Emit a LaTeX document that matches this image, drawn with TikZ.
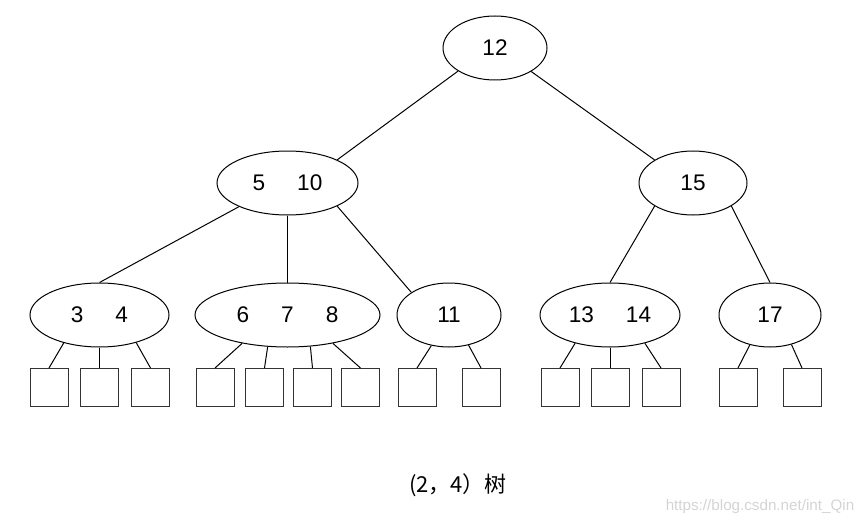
\documentclass[tikz,border=0pt]{standalone}
\usepackage{fontspec}
\setmainfont{Liberation Sans}
\newfontfamily\cjk{Noto Sans CJK SC}
\usetikzlibrary{shapes.geometric}

\newcommand{\gap}{\hspace{16pt}}

\begin{document}
\begin{tikzpicture}[x=0.5pt, y=-0.5pt, line width=0.5pt,
  key/.style={ellipse, draw, inner sep=0pt, minimum height=32pt, font=\fontsize{11.3}{13}\selectfont},
  leaf/.style={rectangle, draw=black!80, minimum size=19pt, inner sep=0pt}]
\useasboundingbox (0,0) rectangle (867,524);

\node[key, minimum width=52pt] (root) at (495,48) {12};

\node[key, minimum width=70.5pt] (n510) at (287.5,183) {5\gap10};
\node[key, minimum width=54pt] (n15) at (693,183) {15};

\node[key, minimum width=69.5pt] (n34) at (99.5,315) {3\gap4};
\node[key, minimum width=92.5pt] (n678) at (287.5,315) {6\gap7\gap8};
\node[key, minimum width=52pt] (n11) at (449,315) {11};
\node[key, minimum width=70pt] (n1314) at (610,315) {13\gap14};
\node[key, minimum width=51pt] (n17) at (770,315) {17};

% leaves
\foreach \x [count=\i] in {49,99.5,150.5,215,264.5,312.5,360.5,417,481,560,610,661,738,802}
  \node[leaf] (s\i) at (\x,387.5) {};

\path (root.212) edge (n510.25);
\path (root.327) edge (n15.149);

\path (n510.206) edge (n34.north);
\path (n510.south) edge (n678.north);
\path (n510.335) edge (n11.149);
\path (n15.211) edge (n1314.north);
\path (n15.329) edge (n17.north);

\path (n34.218) edge (s1.north);
\path (n34.south) edge (s2.north);
\path (n34.323) edge (s3.north);

\path (n678.212) edge (s4.north);
\path (n678.238) edge (s5.north);
\path (n678.306) edge (s6.north);
\path (n678.328) edge (s7.north);

\path (n11.240) edge (s8.north);
\path (n11.303) edge (s9.north);

\path (n1314.219) edge (s10.north);
\path (n1314.south) edge (s11.north);
\path (n1314.321) edge (s12.north);

\path (n17.236) edge (s13.north);
\path (n17.306) edge (s14.north);

\node[font=\cjk\fontsize{11}{13}\selectfont] (caption) at (458,485) {(2，4）树};
\node[font=\fontsize{7.6}{9}\selectfont, text=black!17] (mark) at (760,507) {https://blog.csdn.net/int\_Qin};

\end{tikzpicture}
\end{document}
